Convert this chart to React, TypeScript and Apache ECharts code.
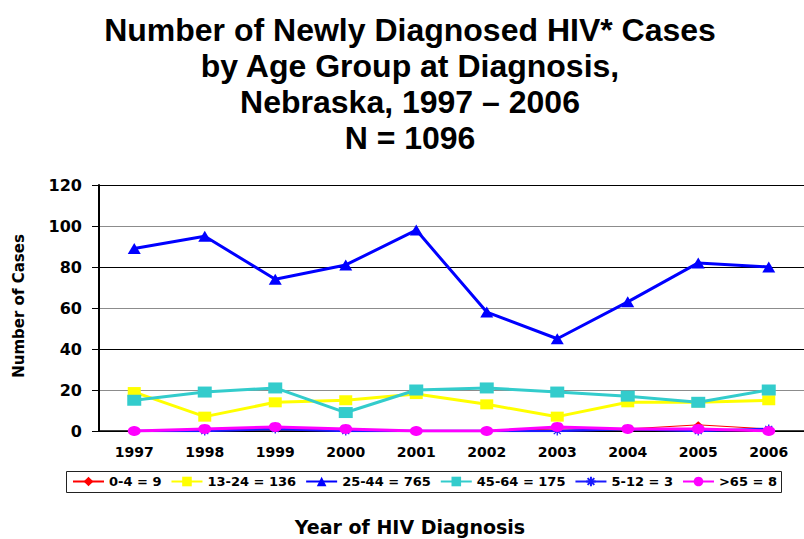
import React, { useEffect, useRef } from 'react';
import * as echarts from 'echarts';

const years = ['1997', '1998', '1999', '2000', '2001', '2002', '2003', '2004', '2005', '2006'];
const age0to4 = [0, 1, 1, 1, 0, 0, 1, 1, 3, 1];
const age13to24 = [19, 7, 14, 15, 18, 13, 7, 14, 14, 15];
const age25to44 = [89, 95, 74, 81, 98, 58, 45, 63, 82, 80];
const age45to64 = [15, 19, 21, 9, 20, 21, 19, 17, 14, 20];
const age5to12 = [0, 0, 1, 0, 0, 0, 0, 1, 0, 1];
const age65plus = [0, 1, 2, 1, 0, 0, 2, 1, 1, 0];
const seriesNames = ['0-4 = 9', '13-24 = 136', '25-44 = 765', '45-64 = 175', '5-12 = 3', '>65 = 8'];
const titleLines = ['Number of Newly Diagnosed HIV* Cases', 'by Age Group at Diagnosis,', 'Nebraska, 1997 \u2013 2006', 'N = 1096'];
const yTitle = 'Number of Cases';
const xTitle = 'Year of HIV Diagnosis';

const ASTERISK = 'path://M5,0 L5,10 M0,5 L10,5 M1.5,1.5 L8.5,8.5 M1.5,8.5 L8.5,1.5';

export default function App() {
  const ref = useRef<HTMLDivElement>(null);
  useEffect(() => {
    document.body.style.margin = '0';
    const chart = echarts.init(ref.current as HTMLDivElement, null, { renderer: 'svg' });
    const wide = 'DejaVu Sans';
    const arial = '"Liberation Sans", Arial, sans-serif';
    const mk = (name: string, data: number[], color: string, symbol: string, symbolSize: number[], lineWidth: number, border = 0) => ({
      name,
      type: 'line',
      data,
      symbol,
      symbolSize,
      showSymbol: true,
      lineStyle: { color, width: lineWidth },
      itemStyle: { color, borderColor: color, borderWidth: border },
    });
    chart.setOption({
      animation: false,
      grid: { left: 99, right: -12, top: 185, bottom: 108 },
      legend: {
        left: 72,
        top: 475,
        padding: 0,
        itemWidth: 31,
        itemHeight: 12,
        itemGap: 9,
        data: seriesNames,
        textStyle: { fontFamily: wide, fontWeight: 'bold', fontSize: 13, color: '#000' },
      },
      xAxis: {
        type: 'category',
        data: years,
        boundaryGap: true,
        axisLine: { lineStyle: { color: '#000', width: 1.5 } },
        axisTick: { length: 5, lineStyle: { color: '#000' } },
        axisLabel: { margin: 14, fontFamily: wide, fontWeight: 'bold', fontSize: 14, color: '#000' },
      },
      yAxis: {
        type: 'value',
        min: 0,
        max: 120,
        interval: 20,
        axisLine: { show: true, lineStyle: { color: '#000', width: 2 } },
        axisTick: { show: true, length: 7, lineStyle: { color: '#000' } },
        axisLabel: { margin: 17, fontFamily: wide, fontWeight: 'bold', fontSize: 16, color: '#000' },
        splitLine: { show: true, lineStyle: { color: ['#000000', '#8c8c8c'], width: 1 } },
      },
      series: [
        mk(seriesNames[0], age0to4, '#FF0000', 'diamond', [8, 7], 1),
        mk(seriesNames[1], age13to24, '#FFFF00', 'rect', [13, 10], 3),
        mk(seriesNames[2], age25to44, '#0000FF', 'triangle', [13, 11], 3),
        mk(seriesNames[3], age45to64, '#33CCCC', 'rect', [14, 11], 3),
        mk(seriesNames[4], age5to12, '#1a1aff', ASTERISK, [10, 9], 2.5, 1.2),
        mk(seriesNames[5], age65plus, '#FF00FF', 'circle', [13, 10], 3),
      ],
      graphic: [
        {
          type: 'text',
          x: 410,
          y: 12,
          style: {
            text: titleLines.join('\n'),
            fontFamily: arial,
            fontWeight: 'bold',
            fontSize: 32,
            lineHeight: 36,
            align: 'center',
            verticalAlign: 'top',
            fill: '#000',
          },
        },
        {
          type: 'text',
          x: 19,
          y: 306,
          rotation: Math.PI / 2,
          style: {
            text: yTitle,
            fontFamily: wide,
            fontWeight: 'bold',
            fontSize: 15,
            align: 'center',
            verticalAlign: 'middle',
            fill: '#000',
          },
        },
        {
          type: 'text',
          x: 410,
          y: 527,
          style: {
            text: xTitle,
            fontFamily: wide,
            fontWeight: 'bold',
            fontSize: 19,
            align: 'center',
            verticalAlign: 'middle',
            fill: '#000',
          },
        },
        {
          type: 'rect',
          shape: { x: 66.5, y: 471.5, width: 715, height: 21 },
          style: { fill: 'none', stroke: '#222', lineWidth: 1 },
          z: -1,
        },
      ],
    });
    return () => chart.dispose();
  }, []);
  return <div ref={ref} style={{ width: 804, height: 539 }} />;
}
